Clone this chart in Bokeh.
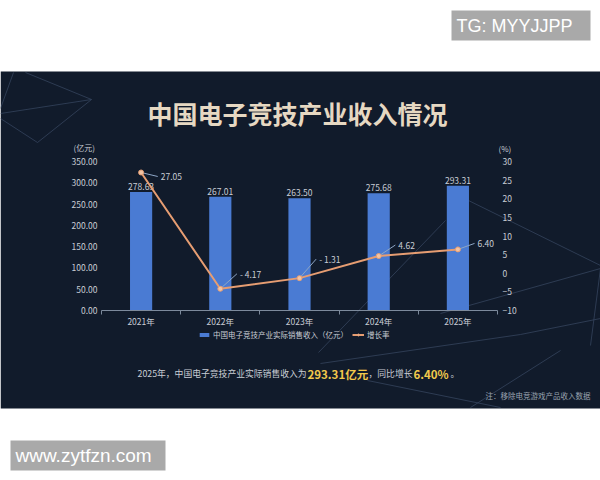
from bokeh.plotting import figure
from bokeh.models import (ColumnDataSource, Range1d, LinearAxis, FixedTicker, NumeralTickFormatter,
                          LabelSet, Label, Legend, LegendItem, PolyAnnotation, BoxAnnotation)
from bokeh.core.properties import value
from bokeh.embed import file_html
from bokeh.resources import INLINE

# ---------------- data ----------------
years = ["2021年", "2022年", "2023年", "2024年", "2025年"]
revenue = [278.63, 267.01, 263.50, 275.68, 293.31]   # 亿元
growth = [27.05, -4.17, -1.31, 4.62, 6.40]            # %
revenue_ticks = [0, 50, 100, 150, 200, 250, 300, 350]
growth_ticks = [-10, -5, 0, 5, 10, 15, 20, 25, 30]
title_text = "中国电子竞技产业收入情况"
bar_series_name = "中国电子竞技产业实际销售收入（亿元）"
line_series_name = "增长率"
note_text = "注：移除电竞游戏产品收入数据"
summary_parts = ["2025年，中国电子竞技产业实际销售收入为", "293.31亿元", "，同比增长", "6.40%", "。"]
watermark_top = "TG: MYYJJPP"
watermark_bottom = "www.zytfzn.com"

# ---------------- style ----------------
BG = "#111b2b"
BAR = "#4a7bd3"
LINE = "#e69d72"
PT = "#f2c4a4"
LEAD = "#8ea6c6"
LBL = "#c9cdd5"
AXC = "#7d8a9c"
TITLE_C = "#e6d8c2"
HIL = "#f2c94c"
NOTE_C = "#9aa3b0"
DECOR = "#34445c"
WM_BG = "#a9a9a9"
FONT = "Noto Sans CJK SC"
WM_FONT = "Liberation Sans"

W, H = 600, 472
# chart area in page pixels
CL, CR, CT, CB = 101, 497, 161, 310
n = len(years)
idx = list(range(n))
x_ppu = (CR - CL) / n
lo_ppu = (CB - CT) / (revenue_ticks[-1] - revenue_ticks[0])
pct_ppu = (CB - CT) / (growth_ticks[-1] - growth_ticks[0])


def fx(px):
    return px


def fy(py):
    return H - py


lead_up_px = [-4, 15, 19, 11, 6]          # label placement (px)
lead_dx = 0.21                            # leader horizontal reach (category widths)

src = ColumnDataSource(dict(
    x=idx,
    revenue=revenue,
    growth=growth,
    rev_lbl=[f"{v:.2f}" for v in revenue],
    g_lbl=[(f"- {abs(v):.2f}" if v < 0 else f"{v:.2f}") for v in growth],
    lead_up=lead_up_px,
    lead_x1=[i + lead_dx for i in idx],
    lead_y1=[g + u / pct_ppu for g, u in zip(growth, lead_up_px)],
))

x_rng = Range1d(-0.5 - CL / x_ppu, n - 0.5 + (W - CR) / x_ppu)
y_rng = Range1d(revenue_ticks[0] - (H - CB) / lo_ppu, revenue_ticks[-1] + CT / lo_ppu)
pct_rng = Range1d(growth_ticks[0] - (H - CB) / pct_ppu, growth_ticks[-1] + CT / pct_ppu)

p = figure(width=W, height=H, x_range=x_rng, y_range=y_rng,
           output_backend="svg", toolbar_location=None,
           x_axis_location=None, y_axis_location=None,
           min_border_left=0, min_border_right=0, min_border_top=0, min_border_bottom=0,
           background_fill_color="#ffffff", border_fill_color="#ffffff", outline_line_color=None)
p.xgrid.visible = False
p.ygrid.visible = False
p.extra_y_ranges = {"pct": pct_rng}

# dark panel
p.add_layout(BoxAnnotation(left=fx(0), right=fx(W + 10), top=fy(71), bottom=fy(408),
                           left_units="screen", right_units="screen", top_units="screen",
                           bottom_units="screen", fill_color=BG, fill_alpha=1, line_color=None,
                           level="underlay"))

# decorative background lines (page pixel coords)
decor_lines = [
    [(25, 72), (91, 99)], [(0, 113), (91, 99)], [(91, 99), (37, 142)], [(0, 118), (37, 142)],
    [(13, 72), (0, 108)],
    [(468, 200), (600, 265)], [(440, 313), (600, 268)], [(600, 268), (590, 345)],
    [(318, 352), (445, 220)], [(320, 363), (520, 334)], [(367, 380), (500, 407)],
    [(520, 334), (600, 318)], [(470, 407), (560, 350)],
]
for seg in decor_lines:
    p.add_layout(PolyAnnotation(xs=[fx(a) for a, b in seg], ys=[fy(b) for a, b in seg],
                                xs_units="screen", ys_units="screen",
                                fill_alpha=0, line_color=DECOR, line_alpha=0.8, line_width=1,
                                level="underlay"))

# watermark boxes
for l, r, t, b in [(451, 590, 10, 40), (10, 165, 440, 470)]:
    p.add_layout(BoxAnnotation(left=fx(l), right=fx(r), top=fy(t), bottom=fy(b),
                               left_units="screen", right_units="screen", top_units="screen",
                               bottom_units="screen", fill_color=WM_BG, fill_alpha=1,
                               line_color=None, level="underlay"))

# axes (fixed inside the frame)
yl = LinearAxis(fixed_location=-0.5, ticker=FixedTicker(ticks=revenue_ticks),
                formatter=NumeralTickFormatter(format="0.00"),
                axis_line_color=None, major_tick_line_color=None, minor_tick_line_color=None,
                major_tick_out=0, major_tick_in=0,
                major_label_text_color=LBL, major_label_text_font_size="8.5px",
                major_label_text_font=FONT, major_label_standoff=4)
p.add_layout(yl, "left")
yr = LinearAxis(y_range_name="pct", fixed_location=n - 0.5, ticker=FixedTicker(ticks=growth_ticks),
                axis_line_color=None, major_tick_line_color=None, minor_tick_line_color=None,
                major_tick_out=0, major_tick_in=0,
                major_label_text_color=LBL, major_label_text_font_size="8.5px",
                major_label_text_font=FONT, major_label_standoff=5)
p.add_layout(yr, "right")
xt = LinearAxis(fixed_location=0, bounds=(-0.5, n - 0.5),
                ticker=FixedTicker(ticks=[i - 0.5 for i in range(n + 1)]),
                axis_line_color=AXC, axis_line_width=1, major_tick_line_color=AXC,
                major_tick_out=4, major_tick_in=0, minor_tick_line_color=None,
                major_label_text_font_size="0px", major_label_text_alpha=0, major_label_standoff=0)
p.add_layout(xt, "below")
xc = LinearAxis(fixed_location=0, ticker=FixedTicker(ticks=idx),
                major_label_overrides={i: y for i, y in zip(idx, years)},
                axis_line_color=None, major_tick_line_color=None, minor_tick_line_color=None,
                major_tick_out=0, major_tick_in=0,
                major_label_text_color=LBL, major_label_text_font_size="8.5px",
                major_label_text_font=FONT, major_label_standoff=4)
p.add_layout(xc, "below")

# bars
bars = p.vbar(x="x", top="revenue", width=0.28, source=src, fill_color=BAR, line_color=None)
p.add_layout(LabelSet(x="x", y="revenue", text="rev_lbl", source=src, text_align="center",
                      text_baseline="bottom", y_offset=2, text_color=LBL,
                      text_font=value(FONT), text_font_size=value("8.5px"), level="underlay"))

# growth line
line = p.line(x="x", y="growth", y_range_name="pct", source=src, line_color=LINE, line_width=2)
p.segment(x0="x", y0="growth", x1="lead_x1", y1="lead_y1",
          y_range_name="pct", source=src, line_color=LEAD, line_width=1)
pts = p.scatter(x="x", y="growth", y_range_name="pct", source=src, size=5,
                fill_color=PT, line_color=LINE, line_width=1)
p.add_layout(LabelSet(x="x", y="growth", y_range_name="pct", text="g_lbl", source=src,
                      text_align="left", text_baseline="middle",
                      x_offset=lead_dx * x_ppu + 3, y_offset="lead_up",
                      text_color=LBL, text_font=value(FONT), text_font_size=value("8.5px")))

# legend
legend = Legend(items=[LegendItem(label=bar_series_name, renderers=[bars]),
                       LegendItem(label=line_series_name, renderers=[line, pts])],
                orientation="horizontal", location=(fx(198), fy(340)),
                background_fill_alpha=0, border_line_color=None,
                label_text_color=LBL, label_text_font=FONT, label_text_font_size="7.5px",
                glyph_width=12, glyph_height=5, label_height=8, label_standoff=3,
                spacing=4, padding=0, margin=0)
p.add_layout(legend)


def text(px, py, s, color, size, align="left", style="normal", font=FONT):
    p.add_layout(Label(x=fx(px), y=fy(py), x_units="screen", y_units="screen", text=s,
                       text_align=align, text_baseline="middle", text_color=color,
                       text_font=font, text_font_style=style, text_font_size=size))


text(297, 112, title_text, TITLE_C, "25px", align="center", style="bold")
text(73, 147, "(亿元)", LBL, "8px")
text(498, 148, "(%)", LBL, "8px")
text(590, 395, note_text, NOTE_C, "7.5px", align="right")

summary_x = [137, 307, 368, 413, 450]
summary_style = [(LBL, "normal", "8.8px"), (HIL, "bold", "11.5px"), (LBL, "normal", "8.8px"),
                 (HIL, "bold", "11.5px"), (LBL, "normal", "8.8px")]
for s, sx, (c, st, sz) in zip(summary_parts, summary_x, summary_style):
    text(sx, 373, s, c, sz, style=st)

text(456, 25, watermark_top, "#ffffff", "18px", font=WM_FONT)
text(15, 455, watermark_bottom, "#ffffff", "19px", font=WM_FONT)

open("out.html", "w").write(file_html(p, INLINE))
